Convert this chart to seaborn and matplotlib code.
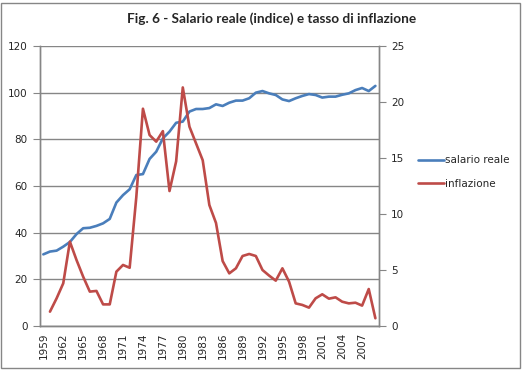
import matplotlib
matplotlib.use("Agg")
import matplotlib.pyplot as plt
import seaborn as sns
from matplotlib.patches import Rectangle
from matplotlib.ticker import MultipleLocator, FixedLocator

# dati
anni = list(range(1959, 2010))
salario_reale = [30.7, 31.9, 32.3, 34.0, 36.0, 39.4, 41.9, 42.1, 42.9, 44.0,
                 45.9, 52.9, 56.1, 58.6, 64.7, 65.1, 71.6, 74.7, 80.4, 83.3,
                 87.1, 87.6, 91.9, 93.0, 93.0, 93.4, 95.0, 94.3, 95.7, 96.6,
                 96.6, 97.6, 100.0, 100.7, 99.7, 99.0, 97.1, 96.4, 97.6, 98.6,
                 99.4, 99.0, 97.9, 98.3, 98.3, 99.1, 99.7, 101.1, 102.0, 100.7,
                 102.9]
anni_infl = list(range(1960, 2010))
inflazione = [1.28, 2.47, 3.81, 7.53, 5.89, 4.4, 3.07, 3.13, 1.93, 1.93,
              4.85, 5.45, 5.2, 11.5, 19.4, 17.05, 16.46, 17.4, 12.05, 14.7,
              21.3, 17.8, 16.3, 14.8, 10.8, 9.2, 5.8, 4.7, 5.15, 6.25,
              6.43, 6.25, 5.0, 4.5, 4.05, 5.15, 3.96, 2.02, 1.88, 1.64,
              2.47, 2.83, 2.44, 2.56, 2.17, 2.02, 2.08, 1.82, 3.3, 0.69]
etichette_x = list(range(1959, 2010, 3))

blu = "#4A7EBB"
rosso = "#BE4B48"
grigio = "#868686"

sns.set_style("white")
plt.rcParams['font.family'] = ['DejaVu Sans']

fig = plt.figure(figsize=(5.22, 3.72), dpi=100)
ax = fig.add_axes([40/522, 1-326/372, 338.7/522, 280/372])
ax2 = ax.twinx()

sns.lineplot(x=anni, y=salario_reale, ax=ax, color=blu, linewidth=1.9, label="salario reale", legend=False)
sns.lineplot(x=anni_infl, y=inflazione, ax=ax2, color=rosso, linewidth=1.9, label="inflazione", legend=False)

ax.set_xlim(1958.5, 2009.5)
ax.set_ylim(0, 120)
ax2.set_ylim(0, 25)
ax.yaxis.set_major_locator(MultipleLocator(20))
ax2.yaxis.set_major_locator(MultipleLocator(5))

ax.xaxis.set_major_locator(FixedLocator(etichette_x))
ax.xaxis.set_minor_locator(FixedLocator([a + 0.5 for a in range(1958, 2010)]))
ax.set_xticklabels([str(a) for a in etichette_x], rotation=90)
ax.tick_params(axis='x', which='major', length=0, pad=5, labelsize=7.5)
ax.tick_params(axis='x', which='minor', length=4, width=0.8, color=grigio, direction='out')
ax.tick_params(axis='y', length=5, width=0.8, color=grigio, direction='out', labelsize=7.5, pad=4)
ax2.tick_params(axis='y', length=5, width=0.8, color=grigio, direction='out', labelsize=7.5, pad=4)

ax.yaxis.grid(True, color=grigio, linewidth=1)
ax.set_axisbelow(True)
for a in (ax, ax2):
    a.spines['top'].set_visible(False)
    for s in ('left', 'right', 'bottom'):
        a.spines[s].set_color(grigio)
        a.spines[s].set_linewidth(1)
ax.set_xlabel("")
ax.set_ylabel("")
ax2.set_ylabel("")

fig.text(0.52, 1-19/372, "Fig. 6 - Salario reale (indice) e tasso di inflazione",
         ha='center', va='center', fontsize=9.8, fontweight='bold', family='Lato')

h1, l1 = ax.get_legend_handles_labels()
h2, l2 = ax2.get_legend_handles_labels()
fig.legend(h1 + h2, l1 + l2, loc='center left', bbox_to_anchor=(409/522, 1-172/372),
           frameon=False, fontsize=7.5, handlelength=2.5, handletextpad=0.05, labelspacing=1.3)

fig.patches.append(Rectangle((1/522, 1-368/372), 519/522, 365/372, transform=fig.transFigure,
                             fill=False, edgecolor=grigio, linewidth=1))

fig.savefig("out.png", dpi=100)
